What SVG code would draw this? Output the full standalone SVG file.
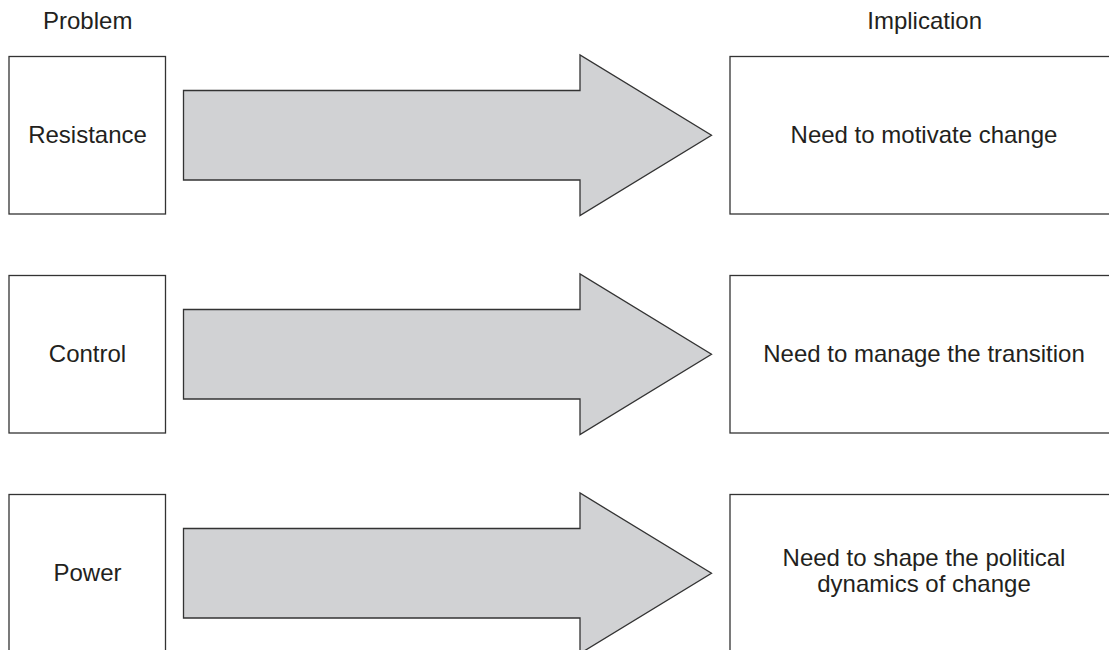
<svg xmlns="http://www.w3.org/2000/svg" width="1109" height="650" viewBox="0 0 1109 650">
  <style>
    .box { fill: #ffffff; stroke: #333333; stroke-width: 1.3; }
    .arrow { fill: #d1d2d4; stroke: #333333; stroke-width: 1.3; stroke-linejoin: miter; }
    text { font-family: "Liberation Sans", Arial, sans-serif; font-size: 24px; fill: #231f20; }
    .mid { text-anchor: middle; }
  </style>
  <defs>
    <!-- block arrow, drawn relative to the row's top edge -->
    <polygon id="blockArrow" points="183.5,34 580,34 580,-1.5 711.5,78.8 580,159 580,123.5 183.5,123.5"/>
  </defs>

  <!-- column headings -->
  <text x="43" y="29">Problem</text>
  <text x="982" y="29" text-anchor="end">Implication</text>

  <!-- row 1 -->
  <g id="problem-resistance">
    <rect class="box" x="9" y="56.5" width="156.5" height="157.5"/>
    <text class="mid" x="87.5" y="142.8">Resistance</text>
  </g>
  <g id="implication-motivate">
    <rect class="box" x="730" y="56.5" width="390" height="157.5"/>
    <text class="mid" x="924" y="142.8">Need to motivate change</text>
  </g>

  <!-- row 2 -->
  <g id="problem-control">
    <rect class="box" x="9" y="275.5" width="156.5" height="157.5"/>
    <text class="mid" x="87.5" y="361.8">Control</text>
  </g>
  <g id="implication-transition">
    <rect class="box" x="730" y="275.5" width="390" height="157.5"/>
    <text class="mid" x="924" y="361.8">Need to manage the transition</text>
  </g>

  <!-- row 3 -->
  <g id="problem-power">
    <rect class="box" x="9" y="494.5" width="156.5" height="157.5"/>
    <text class="mid" x="87.5" y="580.8">Power</text>
  </g>
  <g id="implication-politics">
    <rect class="box" x="730" y="494.5" width="390" height="157.5"/>
    <text class="mid" x="924" y="566">Need to shape the political</text>
    <text class="mid" x="924" y="591.5">dynamics of change</text>
  </g>

  <!-- connectors -->
  <g id="connectors">
    <use href="#blockArrow" class="arrow" transform="translate(0,56.5)"/>
    <use href="#blockArrow" class="arrow" transform="translate(0,275.5)"/>
    <use href="#blockArrow" class="arrow" transform="translate(0,494.5)"/>
  </g>
</svg>
